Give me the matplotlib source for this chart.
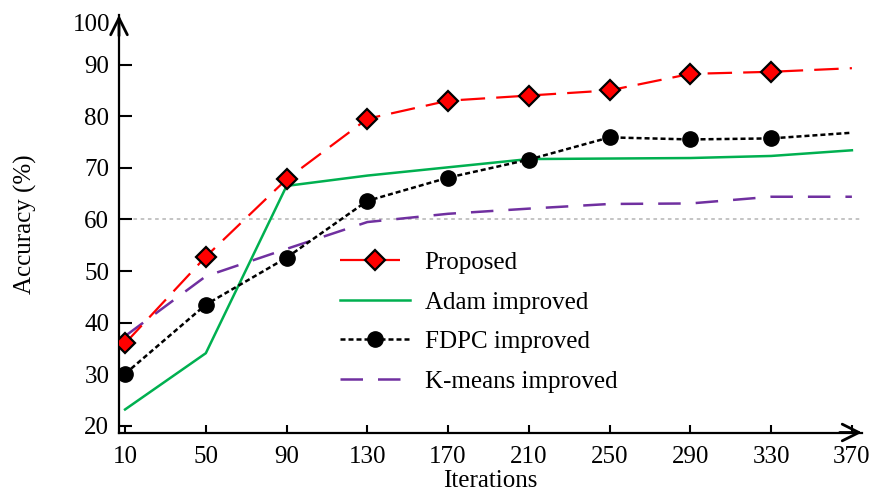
import matplotlib
matplotlib.use('Agg')
import matplotlib.pyplot as plt

plt.rcParams['font.family'] = ['Liberation Serif', 'DejaVu Serif']

# 数据
iterations = [10, 50, 90, 130, 170, 210, 250, 290, 330, 370]
proposed = [36.0, 52.8, 67.8, 79.5, 83.0, 84.0, 85.0, 88.2, 88.6, 89.3]
adam = [23.2, 34.1, 66.5, 68.5, 70.1, 71.7, 71.8, 71.9, 72.3, 73.4]
fdpc = [30.1, 43.5, 52.6, 63.6, 68.1, 71.6, 75.9, 75.5, 75.7, 76.8]
kmeans = [37.4, 49.0, 54.3, 59.5, 61.1, 62.1, 63.0, 63.1, 64.4, 64.4]
yticks = [20, 30, 40, 50, 60, 70, 80, 90]
xticks = [10, 50, 90, 130, 170, 210, 250, 290, 330, 370]

fs = 18

fig = plt.figure(figsize=(8.75, 4.93), dpi=100)
ax = fig.add_axes([119 / 875, 60.5 / 493, 743 / 875, 417.5 / 493])

# 60% 参考线
ax.axhline(60, color='#BFBFBF', linestyle=(0, (2, 2)), lw=1.3, zorder=1)

ax.plot(iterations, proposed, color='#FF0000', lw=1.6, dashes=(11, 5),
        marker='D', markevery=list(range(9)), markersize=10,
        markerfacecolor='#FF0000', markeredgecolor='black', markeredgewidth=1.6,
        label='Proposed', zorder=5)
ax.plot(iterations, adam, color='#00B050', lw=1.8, label='Adam improved', zorder=3)
ax.plot(iterations, fdpc, color='black', lw=1.8, dashes=(2, 1.2),
        marker='o', markevery=list(range(9)), markersize=11,
        label='FDPC improved', zorder=4)
ax.plot(iterations, kmeans, color='#7030A0', lw=1.8, dashes=(9, 6),
        label='K-means improved', zorder=2)

ax.set_xlim(7, 375)
ax.set_ylim(18.74, 99.6)
ax.set_xticks(xticks)
ax.set_yticks(yticks)
ax.tick_params(axis='both', direction='in', labelsize=fs, width=1.5)
ax.tick_params(axis='y', length=9, pad=7)
ax.tick_params(axis='x', length=6, pad=10)
ax.text(-0.012, 97.7, '100', transform=ax.get_yaxis_transform(),
        ha='right', va='center', fontsize=fs)

for s in ['top', 'right']:
    ax.spines[s].set_visible(False)
for s in ['left', 'bottom']:
    ax.spines[s].set_linewidth(1.6)

# 坐标轴箭头
ax.annotate('', xy=(1.0, 0), xytext=(0.97, 0), xycoords='axes fraction',
            arrowprops=dict(arrowstyle='->', lw=2.0, color='black', mutation_scale=30,
                            shrinkA=0, shrinkB=0))
ax.annotate('', xy=(0, 1.0), xytext=(0, 0.95), xycoords='axes fraction',
            arrowprops=dict(arrowstyle='->', lw=2.0, color='black', mutation_scale=30,
                            shrinkA=0, shrinkB=0))

ax.set_xlabel('Iterations', fontsize=fs, labelpad=1)
ax.set_ylabel('Accuracy (%)', fontsize=fs, labelpad=34)

ax.legend(loc='upper left', bbox_to_anchor=(0.297, 0.433), frameon=False,
          fontsize=fs, handlelength=2.8, handletextpad=0.6, labelspacing=0.68,
          borderpad=0, borderaxespad=0)

fig.savefig('out.png', dpi=100)
